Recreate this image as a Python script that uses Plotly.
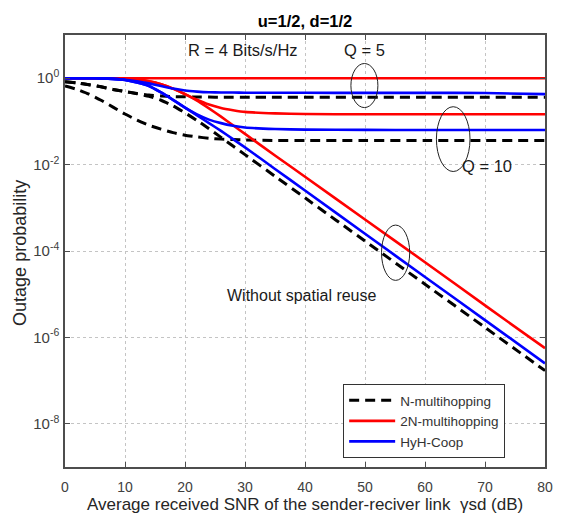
import plotly.graph_objects as go

# ---------------- data ----------------
snr_db = [0, 2, 4, 6, 8, 10, 12, 14, 16, 18, 20, 22, 24, 26, 28, 30, 35, 40, 50, 60, 70, 80]

# N-multihopping (black dashed)
n_q5 = [0.832, 0.776, 0.708, 0.631, 0.550, 0.490, 0.442, 0.407, 0.389, 0.376, 0.370, 0.366,
        0.365, 0.363, 0.363, 0.363, 0.363, 0.363, 0.363, 0.363, 0.363, 0.363]
n_q10 = [0.661, 0.550, 0.427, 0.309, 0.214, 0.148, 0.107, 0.0813, 0.0661, 0.0550, 0.0479, 0.0437,
         0.0407, 0.0389, 0.0380, 0.0372, 0.0363, 0.0363, 0.0363, 0.0363, 0.0363, 0.0363]
n_noreuse = [0.832, 0.776, 0.708, 0.631, 0.550, 0.490, 0.437, 0.380, 0.309, 0.229, 0.158, 0.105,
             0.0676, 0.0427, 0.0269, 0.0170, 0.00537, 0.00170, 1.7e-4, 1.7e-5, 1.7e-6, 1.7e-7]

# 2N-multihopping (red)
r_q5 = [1.0, 1.0, 1.0, 1.0, 1.0, 1.0, 1.0, 1.0, 1.0, 1.0, 1.0, 1.0,
        1.0, 1.0, 1.0, 1.0, 1.0, 1.0, 1.0, 1.0, 1.0, 1.0]
r_q10 = [1.0, 1.0, 1.0, 1.0, 1.0, 0.977, 0.933, 0.851, 0.724, 0.575, 0.427, 0.316,
         0.245, 0.204, 0.182, 0.166, 0.153, 0.148, 0.146, 0.146, 0.146, 0.146]
r_noreuse = [1.0, 1.0, 1.0, 1.0, 1.0, 0.977, 0.933, 0.851, 0.724, 0.575, 0.427, 0.302,
             0.1995, 0.129, 0.0813, 0.0513, 0.0162, 0.00525, 5.37e-4, 5.5e-5, 5.5e-6, 5.62e-7]

# HyH-Coop (blue)
b_q5 = [1.0, 1.0, 1.0, 0.989, 0.966, 0.923, 0.851, 0.759, 0.661, 0.575, 0.519, 0.490,
        0.473, 0.468, 0.465, 0.462, 0.460, 0.459, 0.457, 0.457, 0.455, 0.427]
b_q10 = [1.0, 1.0, 1.0, 0.989, 0.966, 0.912, 0.794, 0.661, 0.468, 0.316, 0.209, 0.145,
         0.110, 0.0912, 0.0794, 0.0724, 0.0668, 0.0646, 0.0638, 0.0631, 0.0631, 0.0631]
b_noreuse = [1.0, 1.0, 1.0, 0.989, 0.966, 0.912, 0.794, 0.661, 0.468, 0.316, 0.209, 0.138,
             0.0912, 0.0603, 0.0389, 0.0251, 0.00794, 0.00251, 2.51e-4, 2.51e-5, 2.51e-6, 2.51e-7]

y_tickvals = [1e-8, 1e-6, 1e-4, 1e-2, 1]
y_ticktext = ["10<sup>-8</sup>", "10<sup>-6</sup>", "10<sup>-4</sup>", "10<sup>-2</sup>", "10<sup>0</sup>"]
x_tickvals = [0, 10, 20, 30, 40, 50, 60, 70, 80]

FONT = "Arial, Liberation Sans, sans-serif"
TXT = "#262626"

fig = go.Figure()

series = [
    ("N-multihopping", "#000000", "10px,6px", 3, [n_q5, n_q10, n_noreuse]),
    ("2N-multihopping", "#ff0000", "solid", 2.6, [r_q5, r_q10, r_noreuse]),
    ("HyH-Coop", "#0000ff", "solid", 2.6, [b_q5, b_q10, b_noreuse]),
]
for name, color, dash, width, curves in series:
    for i, yv in enumerate(curves):
        fig.add_trace(go.Scatter(
            x=snr_db, y=yv, mode="lines", name=name, legendgroup=name,
            showlegend=(i == 0),
            line=dict(color=color, width=width, dash=dash, shape="spline", smoothing=0.5),
        ))

# figure is drawn inside the page body (8 px default margin), so every
# position is offset by 8 px; the figure box is sized to stay in view.
FIG_W, FIG_H = 557, 505
M_L, M_R, M_T, M_B = 57, 12, 27, 45.5
PLOT_W = FIG_W - M_L - M_R
PLOT_H = FIG_H - M_T - M_B


def xp(x):
    return x / 80.0


def ellipse(xc, wc, yc_log, hc):
    return dict(type="circle", xref="paper", yref="paper",
                x0=xp(xc - wc / 2), x1=xp(xc + wc / 2),
                y0=(yc_log - hc / 2 + 9) / 10, y1=(yc_log + hc / 2 + 9) / 10,
                line=dict(color="#222222", width=1))


shapes = [
    ellipse(49.9, 4.5, -0.17, 1.02),
    ellipse(64.7, 5.6, -1.41, 1.5),
    ellipse(55.1, 4.7, -4.04, 1.28),
]

annots = [
    ("R = 4 Bits/s/Hz", 29.7, 0.66, 16.5),
    ("Q = 5", 49.9, 0.66, 16.5),
    ("Q = 10", 70.3, -2.04, 16.5),
    ("Without spatial reuse", 39.5, -5.03, 16),
]
annotations = [
    dict(text=t, xref="paper", yref="paper", x=xp(x), y=(ly + 9) / 10,
         showarrow=False, font=dict(family=FONT, size=s, color="#1a1a1a"),
         xanchor="center", yanchor="middle")
    for t, x, ly, s in annots
]
# axis titles
annotations.append(dict(
    text="Average received SNR of the sender-reciver link  γsd (dB)",
    xref="paper", yref="paper", x=0.5, y=-37.5 / PLOT_H,
    xanchor="center", yanchor="middle", showarrow=False,
    font=dict(family=FONT, size=17, color=TXT)))
annotations.append(dict(
    text="Outage probability", textangle=-90,
    xref="paper", yref="paper", x=(11 - M_L) / PLOT_W, y=0.495,
    xanchor="center", yanchor="middle", showarrow=False,
    font=dict(family=FONT, size=18, color=TXT)))

axis_common = dict(
    showline=True, mirror="ticks", linecolor="#4d4d4d", linewidth=1.5,
    ticks="inside", ticklen=5, tickcolor="#4d4d4d", tickwidth=1,
    showgrid=True, gridcolor="#c4c4c4", gridwidth=1, griddash="dot",
    zeroline=False,
)

fig.update_xaxes(
    range=[0, 80], tickvals=x_tickvals, ticklabelstandoff=6,
    tickfont=dict(family=FONT, size=14, color="#404040"),
    **axis_common,
)
fig.update_yaxes(
    type="log", range=[-9, 1], tickvals=y_tickvals, ticktext=y_ticktext,
    ticklabelstandoff=1,
    tickfont=dict(family=FONT, size=15, color="#404040"),
    **axis_common,
)

fig.update_layout(
    width=FIG_W, height=FIG_H,
    margin=dict(l=M_L, r=M_R, t=M_T, b=M_B),
    paper_bgcolor="white", plot_bgcolor="white",
    shapes=shapes, annotations=annotations,
    title=dict(text="<b>u=1/2, d=1/2</b>", x=0.5, xref="paper", xanchor="center",
               y=1 - 13 / FIG_H, yanchor="middle", font=dict(family=FONT, size=16.5, color="#000")),
    legend=dict(x=0.917, y=9 / PLOT_H, xanchor="right", yanchor="bottom",
                bgcolor="white", bordercolor="#333333", borderwidth=1,
                font=dict(family=FONT, size=13.5, color="#333333"),
                tracegroupgap=0, itemwidth=46),
    showlegend=True,
)

fig.write_html("out.html")
